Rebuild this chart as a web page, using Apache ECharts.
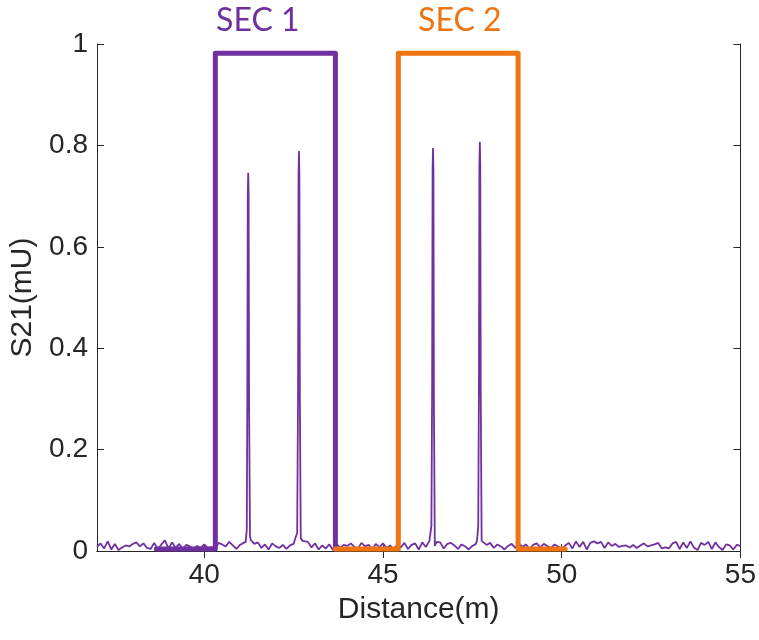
<!DOCTYPE html>
<html>
<head>
<meta charset="utf-8">
<script src="https://cdn.jsdelivr.net/npm/echarts@6/dist/echarts.min.js"></script>
<style>html,body{margin:0;padding:0;background:#fff}#c{width:759px;height:640px}</style>
</head>
<body>
<div id="c"></div>
<script>
// ---- data ----
const xTicks = [40, 45, 50, 55];
const noiseStart = 37.0;
const noiseStep = 0.1;
// background noise (mU), one value per 0.1 m from 37.0 to 55.0
const noiseVals = [
 0.008,0.015,0.005,0.019,0.003,0.014,0.002,0.007,0.011,0.009,
 0.014,0.017,0.009,0.015,0.006,0.004,0.016,0.003,0.013,0.021,
 0.005,0.017,0.006,0.014,0.004,0.012,0.009,0.003,0.010,0.006,
 0.013,0.005,0.008,0.004,0.016,0.013,0.009,0.018,0.011,0.004,
 0.012,0.016,0.020,0.022,0.014,0.017,0.006,0.013,0.003,0.015,
 0.009,0.006,0.012,0.004,0.011,0.014,0.020,0.020,0.019,0.018,
 0.007,0.015,0.003,0.011,0.005,0.013,0.002,0.014,0.006,0.012,
 0.010,0.015,0.008,0.005,0.016,0.009,0.012,0.004,0.014,0.007,
 0.015,0.006,0.011,0.003,0.013,0.007,0.016,0.004,0.012,0.015,
 0.003,0.017,0.008,0.020,0.020,0.018,0.017,0.005,0.014,0.016,
 0.011,0.004,0.013,0.009,0.003,0.010,0.014,0.020,0.019,0.012,
 0.016,0.006,0.013,0.009,0.003,0.010,0.014,0.006,0.015,0.008,
 0.013,0.004,0.012,0.015,0.007,0.014,0.010,0.006,0.013,0.009,
 0.004,0.011,0.016,0.005,0.019,0.008,0.018,0.003,0.016,0.019,
 0.015,0.018,0.006,0.017,0.010,0.014,0.008,0.010,0.011,0.007,
 0.012,0.006,0.011,0.015,0.009,0.011,0.013,0.016,0.005,0.007,
 0.005,0.015,0.018,0.004,0.017,0.006,0.019,0.007,0.002,0.016,
 0.012,0.018,0.004,0.017,0.008,0.002,0.013,0.011,0.003,0.012,
 0.010
];
// reflection peaks
const peak1Dist = [41.16, 41.19, 41.205, 41.218, 41.23, 41.242, 41.255, 41.28];
const peak1Val  = [0.018, 0.042, 0.30, 0.70, 0.746, 0.70, 0.28, 0.03];
const peak2Dist = [42.57, 42.60, 42.625, 42.638, 42.65, 42.662, 42.675, 42.70, 42.75];
const peak2Val  = [0.030, 0.035, 0.32, 0.74, 0.789, 0.74, 0.30, 0.025, 0.020];
const peak3Dist = [46.32, 46.355, 46.375, 46.388, 46.40, 46.412, 46.425, 46.45];
const peak3Val  = [0.020, 0.050, 0.32, 0.75, 0.795, 0.75, 0.30, 0.010];
const peak4Dist = [47.63, 47.665, 47.685, 47.698, 47.71, 47.722, 47.735, 47.76];
const peak4Val  = [0.020, 0.048, 0.33, 0.76, 0.807, 0.76, 0.31, 0.020];
// section windows
const sec1Dist = [38.66, 40.31, 40.31, 43.67, 43.67];
const sec1Val  = [0.004, 0.004, 0.982, 0.982, 0.004];
const sec2Dist = [43.67, 45.43, 45.43, 48.78, 48.78, 50.10];
const sec2Val  = [0.004, 0.004, 0.982, 0.982, 0.004, 0.004];
const secLabels = ['SEC 1', 'SEC 2'];
const secLabelDist = [41.5, 47.15];

// ---- build signal ----
const peaks = [[peak1Dist, peak1Val], [peak2Dist, peak2Val], [peak3Dist, peak3Val], [peak4Dist, peak4Val]];
const centers = [41.23, 42.65, 46.40, 47.71];
let sig = [];
noiseVals.forEach((v, i) => {
  const d = +(noiseStart + i * noiseStep).toFixed(2);
  if (centers.some(c => Math.abs(d - c) < 0.065)) return;
  sig.push([d, v]);
});
peaks.forEach(([ds, vs]) => ds.forEach((d, i) => sig.push([d, vs[i]])));
sig.sort((a, b) => a[0] - b[0]);
const zip = (a, b) => a.map((d, i) => [d, b[i]]);

const PURPLE = '#7030A0';
const ORANGE = '#EF7412';
const AX = '#262626';
const FONT = '"Liberation Sans", Arial, sans-serif';

const chart = echarts.init(document.getElementById('c'), null, {renderer: 'canvas'});
const baseAxisLine = {show: true, lineStyle: {color: AX, width: 1}};
chart.setOption({
  animation: false,
  backgroundColor: '#fff',
  grid: {left: 97, right: 18, top: 44, bottom: 89},
  xAxis: [{
    type: 'value', min: 37, max: 55, position: 'bottom',
    name: 'Distance(m)', nameLocation: 'middle', nameGap: 44,
    nameTextStyle: {fontFamily: FONT, fontSize: 30, color: AX},
    axisLine: baseAxisLine,
    axisTick: {show: true, inside: true, length: 7, lineStyle: {color: AX}, customValues: xTicks},
    axisLabel: {show: true, fontFamily: FONT, fontSize: 28, color: AX, margin: 10, customValues: xTicks},
    splitLine: {show: false}
  }, {
    type: 'value', min: 37, max: 55, position: 'top',
    axisLine: baseAxisLine,
    axisTick: {show: true, inside: true, length: 7, lineStyle: {color: AX}, customValues: xTicks},
    axisLabel: {show: false, customValues: xTicks},
    splitLine: {show: false}
  }],
  yAxis: [{
    type: 'value', min: 0, max: 1, interval: 0.2, position: 'left',
    name: 'S21(mU)', nameLocation: 'middle', nameGap: 50,
    nameTextStyle: {fontFamily: FONT, fontSize: 30, color: AX},
    axisLine: baseAxisLine,
    axisTick: {show: true, inside: true, length: 7, lineStyle: {color: AX}},
    axisLabel: {fontFamily: FONT, fontSize: 28, color: AX, margin: 9},
    splitLine: {show: false}
  }, {
    type: 'value', min: 0, max: 1, interval: 0.2, position: 'right',
    axisLine: baseAxisLine,
    axisTick: {show: true, inside: true, length: 7, lineStyle: {color: AX}},
    axisLabel: {show: false},
    splitLine: {show: false}
  }],
  series: [{
    type: 'line', data: sig, symbol: 'none', clip: true, z: 2,
    lineStyle: {color: PURPLE, width: 1.8}
  }, {
    type: 'line', data: zip(sec1Dist, sec1Val), symbol: 'none', clip: false, z: 3,
    lineStyle: {color: PURPLE, width: 5, cap: 'round', join: 'round'}
  }, {
    type: 'line', data: zip(sec2Dist, sec2Val), symbol: 'none', clip: false, z: 3,
    lineStyle: {color: ORANGE, width: 5, cap: 'round', join: 'round'}
  }]
});

const colors = [PURPLE, ORANGE];
chart.setOption({
  graphic: secLabels.map((t, i) => ({
    type: 'text',
    x: chart.convertToPixel({xAxisIndex: 0}, secLabelDist[i]),
    y: 21,
    style: {text: t, fill: colors[i], font: '32px Lato, "Open Sans", sans-serif', align: 'center', verticalAlign: 'middle'}
  }))
});
</script>
</body>
</html>
